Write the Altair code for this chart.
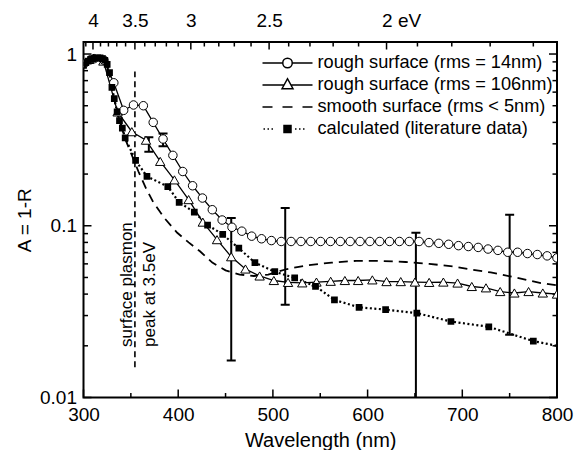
import altair as alt
import pandas as pd

# ---------------- data ----------------
# rough surface, rms = 14 nm (open circles)
r14_wl = [300.8, 311.2, 321.6, 332.0, 342.4, 352.8, 363.2, 373.6, 384.0, 394.4,
          404.8, 415.2, 425.6, 436.0, 446.4, 456.8, 467.2, 477.6, 488.0, 498.4,
          508.8, 519.2, 529.6, 540.0, 550.4, 560.8, 571.2, 581.6, 592.0, 602.4,
          612.8, 623.2, 633.6, 644.0, 654.4, 664.8, 675.2, 685.6, 696.0, 706.4,
          716.8, 727.2, 737.6, 748.0, 758.4, 768.8, 779.2, 789.6, 800.0]
r14_A = [0.88, 0.94, 0.92, 0.68, 0.47, 0.505, 0.50, 0.40, 0.32, 0.257,
         0.207, 0.171, 0.145, 0.124, 0.108, 0.098, 0.093, 0.087, 0.084, 0.082,
         0.081, 0.081, 0.081, 0.081, 0.081, 0.081, 0.081, 0.081, 0.081, 0.081,
         0.081, 0.081, 0.081, 0.081, 0.081, 0.0798, 0.079, 0.078, 0.0766, 0.0757,
         0.0748, 0.0732, 0.0719, 0.0701, 0.0701, 0.0689, 0.068, 0.0668, 0.065]

# rough surface, rms = 106 nm (open triangles)
r106_wl = [306, 321, 336, 351, 366, 381, 396, 411, 426, 441, 456, 471, 486, 501,
           516, 531, 546, 561, 576, 590, 605, 620, 635, 650, 665, 680, 695, 710,
           725, 740, 755, 770, 785, 800]
r106_A = [0.93, 0.91, 0.46, 0.353, 0.315, 0.237, 0.185, 0.142, 0.105, 0.083, 0.066,
          0.056, 0.051, 0.048, 0.0468, 0.0465, 0.047, 0.0475, 0.048, 0.048, 0.0484,
          0.0473, 0.0473, 0.047, 0.0468, 0.047, 0.0464, 0.0443, 0.0435, 0.0414,
          0.0406, 0.0414, 0.0406, 0.040]

# smooth surface, rms < 5 nm (dashed line)
sm_wl = [300, 310, 318, 324, 330, 336, 344, 352, 358, 366, 374, 386, 399, 411, 423,
         436, 450, 465, 480, 495, 515, 538, 562, 588, 612, 640, 665, 690, 710, 730,
         756, 783, 800]
sm_A = [0.87, 0.94, 0.95, 0.90, 0.62, 0.45, 0.32, 0.25, 0.207, 0.165, 0.136, 0.11,
        0.091, 0.080, 0.071, 0.061, 0.055, 0.052, 0.051, 0.052, 0.056, 0.059, 0.061,
        0.0625, 0.0625, 0.0615, 0.060, 0.058, 0.0555, 0.0535, 0.050, 0.0464, 0.045]

# calculated from literature data (filled squares, dotted line)
calc_wl = [300, 302.5, 305, 307.5, 310, 312.5, 315, 317.5, 320, 322.5, 325, 327.5,
           330, 332.5, 335.5, 338, 341, 344, 355, 367, 389, 401, 417, 431, 447, 464,
           481, 502, 523, 545, 565, 591, 619, 652, 688, 728, 775, 800]
calc_A = [0.86, 0.89, 0.91, 0.93, 0.94, 0.945, 0.95, 0.95, 0.94, 0.92, 0.87, 0.78,
          0.64, 0.55, 0.46, 0.41, 0.37, 0.325, 0.24, 0.194, 0.169, 0.137, 0.12, 0.101,
          0.089, 0.074, 0.061, 0.054, 0.0497, 0.0444, 0.037, 0.0335, 0.0325, 0.031,
          0.0277, 0.0258, 0.0213, 0.020]

# error bars
err_wl = [369, 384, 456, 513, 651, 750]
err_lo = [0.27, 0.29, 0.0164, 0.0347, 0.0095, 0.0232]
err_hi = [0.328, 0.345, 0.111, 0.127, 0.091, 0.116]

# surface plasmon marker
sp_eV = 3.5
sp_lo, sp_hi = 0.015, 0.79
ann_text = "surface plasmon\npeak at 3.5eV"
ann_wl, ann_A = 346, 0.0197

series_names = ["rough surface (rms = 14nm)", "rough surface (rms = 106nm)",
                "smooth surface (rms < 5nm)", "calculated (literature data)"]

# axis ticks
x_major = [300, 400, 500, 600, 700, 800]
x_minor = [350, 450, 550, 650, 750]
y_major = [0.01, 0.1, 1]
y_minor = [0.02, 0.03, 0.04, 0.05, 0.06, 0.07, 0.08, 0.09,
           0.2, 0.3, 0.4, 0.5, 0.6, 0.7, 0.8, 0.9]
ev_major = [4, 3.5, 3, 2.5, 2]
ev_minor = [4.1, 3.9, 3.8, 3.7, 3.6, 3.4, 3.3, 3.2, 3.1, 2.9, 2.8, 2.7, 2.6,
            2.4, 2.3, 2.2, 2.1, 1.9, 1.8, 1.7, 1.6]
HC = 1240.0  # eV*nm

# ---------------- chart ----------------
W, H = 473.5, 355.5
FONT = "Liberation Sans"
xs = alt.Scale(domain=[300, 800], nice=False, zero=False)
ys = alt.Scale(type="log", domain=[0.01, 1.175], nice=False)

def X(field, axis=None):
    return alt.X(field, type="quantitative", scale=xs, axis=axis)

def Y(field, axis=None):
    return alt.Y(field, type="quantitative", scale=ys, axis=axis)

r14 = pd.DataFrame({"wl": r14_wl, "A": r14_A})
r106 = pd.DataFrame({"wl": r106_wl, "A": r106_A})
sm = pd.DataFrame({"wl": sm_wl, "A": sm_A})
calc = pd.DataFrame({"wl": calc_wl, "A": calc_A})
err = pd.DataFrame({"wl": err_wl, "lo": err_lo, "hi": err_hi})

bottom_axis = alt.Axis(orient="bottom", values=x_major, title="Wavelength (nm)",
                       labelFlush=False, labelPadding=8, titlePadding=6, format="d",
                       titleFontSize=20)
left_axis = alt.Axis(orient="left", values=y_major, title="A = 1-R", format="~g",
                     labelPadding=7, titlePadding=5, titleFontSize=19)
top_axis = alt.Axis(orient="top", values=[HC / e for e in ev_major], title=None,
                    labelFlush=False, labelPadding=12,
                    labelExpr="datum.value > 600 ? '2 eV' : format(1240 / datum.value, '.2~f')",
                    labelAlign={"condition": {"test": "datum.value > 600", "value": "left"}, "value": "center"},
                    labelOffset={"condition": {"test": "datum.value > 600", "value": -5}, "value": 0})

# lines
line_r14 = alt.Chart(r14).mark_line(color="black", strokeWidth=1.3, clip=True).encode(
    x=X("wl", bottom_axis), y=Y("A", left_axis))
line_r106 = alt.Chart(r106).mark_line(color="black", strokeWidth=1.3, clip=True).encode(
    x=X("wl"), y=Y("A"))
line_sm = alt.Chart(sm).mark_line(color="black", strokeWidth=1.8, strokeDash=[9, 6], clip=True).encode(
    x=X("wl"), y=Y("A"))
line_calc = alt.Chart(calc).mark_line(color="black", strokeWidth=2.2, strokeDash=[2, 2.5], clip=True).encode(
    x=X("wl"), y=Y("A"))

# markers
pts_r106 = alt.Chart(r106).mark_point(shape="triangle-up", size=88, fill="white", filled=False,
                                       stroke="black", strokeWidth=1, opacity=1, clip=True).encode(
    x=X("wl"), y=Y("A"))
pts_r14 = alt.Chart(r14).mark_point(shape="circle", size=72, fill="white", filled=False,
                                     stroke="black", strokeWidth=1, opacity=1, clip=True).encode(
    x=X("wl"), y=Y("A"))
pts_calc = alt.Chart(calc).transform_filter("datum.wl < 800").mark_square(
    size=45, color="black", opacity=1, clip=True).encode(x=X("wl"), y=Y("A"))

# error bars
eb_rule = alt.Chart(err).mark_rule(color="black", strokeWidth=2, clip=True).encode(
    x=X("wl"), y=Y("lo"), y2="hi")
eb_hi = alt.Chart(err).mark_tick(orient="horizontal", color="black", size=9, thickness=2,
                                 opacity=1, clip=True).encode(x=X("wl"), y=Y("hi"))
eb_lo = alt.Chart(err).transform_filter("datum.lo > 0.01").mark_tick(
    orient="horizontal", color="black", size=9, thickness=2, opacity=1, clip=True).encode(
    x=X("wl"), y=Y("lo"))

# surface plasmon line + annotation
sp_df = pd.DataFrame({"wl": [HC / sp_eV], "lo": [sp_lo], "hi": [sp_hi]})
sp_rule = alt.Chart(sp_df).mark_rule(color="black", strokeWidth=1.6, strokeDash=[6, 4]).encode(
    x=X("wl"), y=Y("lo"), y2="hi")
ann_df = pd.DataFrame({"wl": [ann_wl], "A": [ann_A], "t": [ann_text]})
ann = alt.Chart(ann_df).mark_text(angle=270, align="left", baseline="middle", fontSize=17,
                                  font=FONT, lineBreak="\n", lineHeight=23, color="black").encode(
    x=X("wl"), y=Y("A"), text="t:N")

# inward ticks
def hticks(vals, y0, y1, axis=None):
    return alt.Chart(pd.DataFrame({"v": vals})).mark_rule(color="black", strokeWidth=1.5).encode(
        x=X("v", axis), y=alt.value(y0), y2=alt.value(y1))

def vticks(vals, x0, x1):
    return alt.Chart(pd.DataFrame({"v": vals})).mark_rule(color="black", strokeWidth=1.5).encode(
        y=Y("v"), x=alt.value(x0), x2=alt.value(x1))

tick_layers = [
    hticks(x_major, H, H - 8), hticks(x_minor, H, H - 4.5),
    hticks([HC / e for e in ev_major], 0, 7.5, top_axis),
    hticks([HC / e for e in ev_minor], 0, 4.5),
    vticks(y_major, 0, 8), vticks(y_minor, 0, 4.5),
    vticks(y_major, W, W - 8), vticks(y_minor, W, W - 4.5),
]

# legend (symbols drawn as unit-square paths: line + marker)
legend_paths = [
    "M-1,0L-0.19,0M0.19,0L1,0M0.19,0A0.19,0.19,0,1,1,-0.19,0A0.19,0.19,0,1,1,0.19,0Z",
    "M-1,0L-0.14,0M0.14,0L1,0M-0.22,0.15L0,-0.25L0.22,0.15Z",
    "M-1,0L-0.6,0M-0.2,0L0.2,0M0.6,0L1,0",
    "M-0.96,0L-0.9,0M-0.8,0L-0.74,0M-0.64,0L-0.58,0M-0.14,-0.14L0.14,-0.14L0.14,0.14L-0.14,0.14ZM0.3,0L0.36,0M0.46,0L0.52,0M0.62,0L0.68,0",
]
legend_fills = ["white", "white", "white", "black"]
legend_strokes = ["black", "black", "black", "black"]
leg = alt.Legend(title=None, orient="none", legendX=178, legendY=10, labelFontSize=18.2,
                 labelFont=FONT, labelColor="black", symbolSize=2500, symbolStrokeWidth=1.5,
                 clipHeight=22, rowPadding=0, labelOffset=4,
                 padding=0, labelLimit=400)
legend_layer = alt.Chart(pd.DataFrame({"series": series_names})).mark_point(
    size=2500, strokeWidth=1.5, opacity=1).encode(
    x=alt.value(-3000), y=alt.value(-3000),
    shape=alt.Shape("series:N", scale=alt.Scale(domain=series_names, range=legend_paths), legend=leg),
    fill=alt.Fill("series:N", scale=alt.Scale(domain=series_names, range=legend_fills), legend=leg),
    stroke=alt.Stroke("series:N", scale=alt.Scale(domain=series_names, range=legend_strokes), legend=leg),
)

chart = alt.layer(
    *tick_layers, sp_rule, ann,
    line_sm, line_calc, line_r106, line_r14,
    eb_rule, eb_hi, eb_lo,
    pts_r106, pts_r14, pts_calc,
    legend_layer,
).resolve_axis(x="independent", y="independent").properties(
    width=W, height=H,
    autosize=alt.AutoSizeParams(type="none"),
    padding={"left": 75.5, "top": 34, "right": 22, "bottom": 52},
).configure_view(stroke="black", strokeWidth=2).configure_axis(
    labelFont=FONT, titleFont=FONT, labelFontSize=19, titleFontSize=19,
    labelColor="black", titleColor="black", titleFontWeight="normal",
    ticks=False, tickSize=0, domain=False, grid=False, labelOverlap=False, labelBound=False,
)

chart.save("out.html", embed_options={"renderer": "svg", "actions": False})
